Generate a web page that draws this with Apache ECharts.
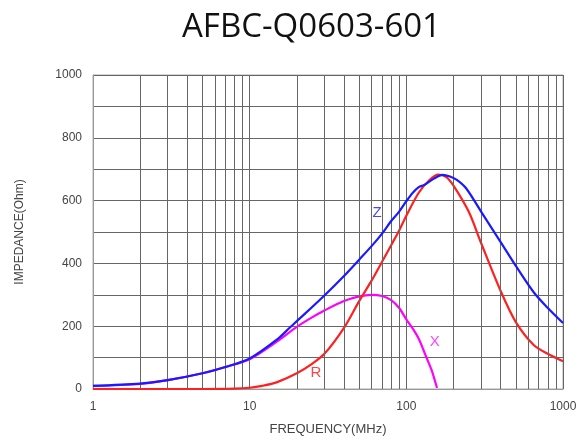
<!DOCTYPE html>
<html>
<head>
<meta charset="utf-8">
<script src="https://cdn.jsdelivr.net/npm/echarts@6/dist/echarts.min.js"></script>
<style>
html,body{margin:0;padding:0;background:#fff;}
#chart{width:580px;height:446px;}
</style>
</head>
<body>
<div id="chart"></div>
<script>
// Data
var titleText = 'AFBC-Q0603-601';
var xTickLabels = ['1', '10', '100', '1000'];
var minorGridFreqs = [2,3,4,5,6,7,8,9,20,30,40,50,60,70,80,90,200,300,400,500,600,700,800,900];

var zFreq = [1,2,3,5,7,10,15,18,20,30,40,50,60,70,80,90,100,110,120,130,150,170,190,210,240,300,400,500,650,800,1000];
var zVals = [10,17,28,50,70,97,158,195,216,298,360,412,455,495,535,565,598,625,643,650,670,682,677,666,640,565,468,392,308,258,210];

var rFreq = [1,5,8,10,12,15,20,25,30,40,50,60,70,80,90,100,120,140,160,180,200,250,300,400,500,650,800,1000];
var rVals = [0,0,1,4,10,22,50,80,112,195,280,345,405,458,505,552,625,665,683,675,648,565,465,312,213,140,112,88];

var xFreq = [1,2,3,5,7,10,15,20,25,30,40,50,60,70,80,90,100,110,120,134,145,157];
var xVals = [10,16,28,50,70,95,152,198,228,250,280,295,300,296,283,258,222,192,160,102,60,3];

var labelZ = {name:'Z', coord:[65,562]};
var labelR = {name:'R', coord:[26.5,50]};
var labelX = {name:'X', coord:[152,150]};

function pairs(f, v){ return f.map(function(x,i){ return [x, v[i]]; }); }

var chart = echarts.init(document.getElementById('chart'));
var gridColor = '#666';
var option = {
  animation: false,
  title: {
    text: titleText, left: 177, top: 6,
    textStyle: {fontFamily: 'Open Sans', fontSize: 33, fontWeight: 'normal', color: '#111'}
  },
  grid: {left: 93, right: 17, top: 75, bottom: 57, show: true, borderColor: '#aaa', borderWidth: 1},
  xAxis: {
    type: 'log', logBase: 10, min: 1, max: 1000,
    name: 'FREQUENCY(MHz)', nameLocation: 'middle', nameGap: 34,
    nameTextStyle: {fontFamily: 'Liberation Sans', fontSize: 13, color: '#444'},
    axisLine: {show: true, lineStyle: {color: '#999'}},
    axisTick: {show: false},
    axisLabel: {fontFamily: 'Liberation Sans', fontSize: 12, color: '#444', margin: 12,
      formatter: function(v){ var s = String(Math.round(v)); return xTickLabels.indexOf(s) >= 0 ? s : ''; }},
    splitLine: {show: true, lineStyle: {color: gridColor, width: 1}}
  },
  yAxis: {
    type: 'value', min: 0, max: 1000, interval: 100,
    name: 'IMPEDANCE(Ohm)', nameLocation: 'middle', nameGap: 67, nameRotate: 90,
    nameTextStyle: {fontFamily: 'Liberation Sans', fontSize: 12, color: '#444'},
    axisLine: {show: true, lineStyle: {color: '#999'}},
    axisTick: {show: false},
    axisLabel: {fontFamily: 'Liberation Sans', fontSize: 12, color: '#444', margin: 11,
      formatter: function(v){ return v % 200 === 0 ? String(v) : ''; }},
    splitLine: {show: true, lineStyle: {color: gridColor, width: 1}}
  },
  series: [
    {
      type: 'line', data: [], silent: true,
      markLine: {
        silent: true, symbol: 'none', label: {show: false},
        lineStyle: {color: gridColor, width: 1, type: 'solid'},
        data: minorGridFreqs.map(function(f){ return {xAxis: f}; })
      }
    },
    {
      name: 'X', type: 'line', data: pairs(xFreq, xVals), smooth: 0.3, showSymbol: false,
      lineStyle: {color: '#ff00ff', width: 2.2}, itemStyle: {color: '#ff00ff'}, z: 3,
      markPoint: {symbol: 'circle', symbolSize: 0, label: {show: true, formatter: '{b}', color: '#ff44ff', fontFamily: 'Liberation Sans', fontSize: 15}, data: [labelX]}
    },
    {
      name: 'R', type: 'line', data: pairs(rFreq, rVals), smooth: 0.3, showSymbol: false,
      lineStyle: {color: '#ff2020', width: 2.2}, itemStyle: {color: '#ff2020'}, z: 4,
      markPoint: {symbol: 'circle', symbolSize: 0, label: {show: true, formatter: '{b}', color: '#ff4444', fontFamily: 'Liberation Sans', fontSize: 15}, data: [labelR]}
    },
    {
      name: 'Z', type: 'line', data: pairs(zFreq, zVals), smooth: 0.3, showSymbol: false,
      lineStyle: {color: '#1a1aff', width: 2.2}, itemStyle: {color: '#1a1aff'}, z: 5,
      markPoint: {symbol: 'circle', symbolSize: 0, label: {show: true, formatter: '{b}', color: '#4444ff', fontFamily: 'Liberation Sans', fontSize: 15}, data: [labelZ]}
    }
  ]
};
chart.setOption(option);
</script>
</body>
</html>
